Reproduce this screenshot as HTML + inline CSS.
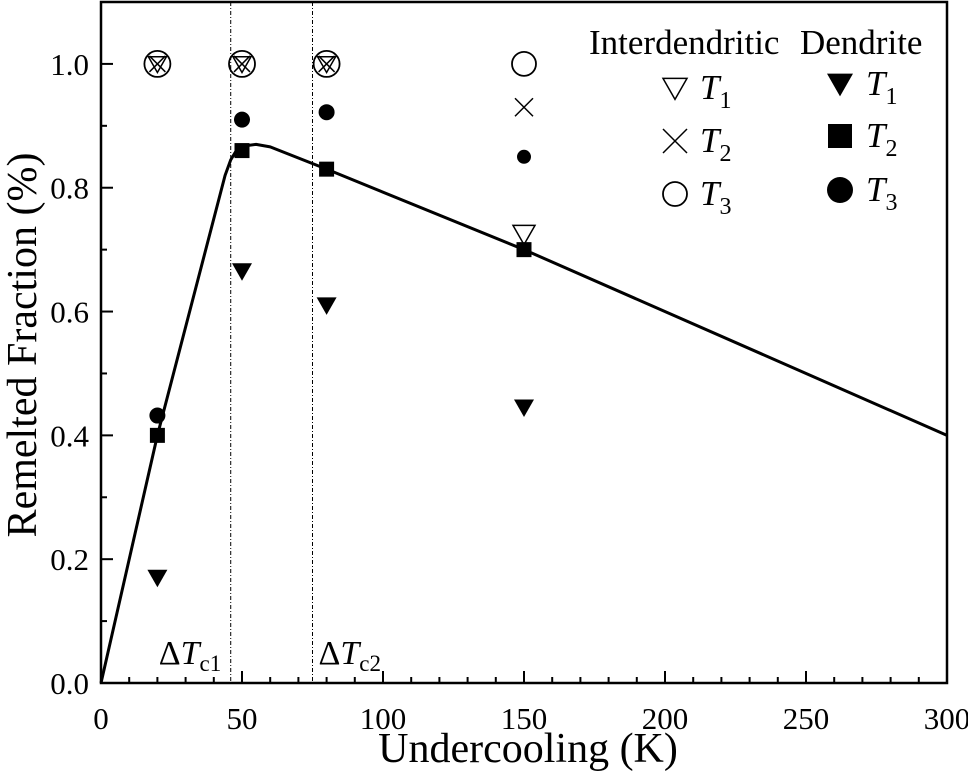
<!DOCTYPE html>
<html><head><meta charset="utf-8"><style>
html,body{margin:0;padding:0;background:#fff;}
svg{display:block;font-family:"Liberation Serif",serif;}
</style></head><body>
<svg id="chart" width="968" height="776" viewBox="0 0 968 776"></svg>
<script>
const xTicks=[0,50,100,150,200,250,300];
const yTicks=[0.0,0.2,0.4,0.6,0.8,1.0];
const undercooling=[20,50,80,150];
const interT1=[1.0,1.0,1.0,0.725];
const interT2=[1.0,1.0,1.0,0.93];
const interT3=[1.0,1.0,1.0,1.0];
const dendT1=[0.17,0.665,0.61,0.445];
const dendT2=[0.4,0.86,0.83,0.7];
const dendT3=[0.432,0.91,0.922,0.85];
const curveX=[0,20,44,46,48,50,55,60,80,150,300];
const curveY=[0,0.4,0.82,0.845,0.86,0.867,0.87,0.866,0.83,0.7,0.4];
const criticalX=[46,75];
const criticalLabels=["c1","c2"];

const X0=101,X1=947,Y0=683,Y1=2,XMAX=300,YMAX=1.1;
const sx=v=>X0+(X1-X0)*v/XMAX;
const sy=v=>Y0-(Y0-Y1)*v/YMAX;
const svg=document.getElementById('chart');
const NS='http://www.w3.org/2000/svg';
function mk(tag,attrs,parent){const e=document.createElementNS(NS,tag);for(const k in attrs)e.setAttribute(k,attrs[k]);(parent||svg).appendChild(e);return e;}

criticalX.forEach((c,i)=>{
  const l=mk('line',{x1:sx(c),x2:sx(c),y1:Y1,y2:Y0,stroke:'#000','stroke-width':1,'stroke-dasharray':'4,2,1,2'});
  
  
  const t=mk('text',{x:sx(c)-(i==0?72:-6),y:664,'font-size':34});
  
  
  t.innerHTML='Δ<tspan font-style="italic">T</tspan><tspan font-size="23" dy="7">'+criticalLabels[i]+'</tspan>';
});

const fr=mk('rect',{x:X0,y:Y1,width:X1-X0,height:Y0-Y1,fill:'none',stroke:'#000','stroke-width':2.5});



for(let v=0;v<=300;v+=10){
  const major=v%50==0;
  const t=mk('line',{x1:sx(v),x2:sx(v),y1:Y0,y2:Y0-(major?12:6),stroke:'#000','stroke-width':2});
  
  
}
xTicks.forEach(v=>{
  const t=mk('text',{x:sx(v),y:729,'font-size':31,'text-anchor':'middle'});
  
  
  t.textContent=v;
});
for(let i=0;i<=11;i++){
  const v=i/10;const major=i%2==0;
  const t=mk('line',{x1:X0,x2:X0+(major?12:6),y1:sy(v),y2:sy(v),stroke:'#000','stroke-width':2});
  
  
}
yTicks.forEach(v=>{
  const t=mk('text',{x:89,y:sy(v)+11,'font-size':31,'text-anchor':'end'});
  
  
  t.textContent=v.toFixed(1);
});
const xt=mk('text',{x:528,y:762,'font-size':42,'text-anchor':'middle'});


xt.textContent='Undercooling (K)';
const yt=mk('text',{x:0,y:0,'font-size':42,'text-anchor':'middle',transform:'translate(36,345) rotate(-90)'});


yt.textContent='Remelted Fraction (%)';

const cp=mk('polyline',{points:curveX.map((x,i)=>sx(x)+','+sy(curveY[i])).join(' '),fill:'none',stroke:'#000','stroke-width':3,'stroke-linejoin':'round'});



function marker(kind,cx,cy,size){
  const g=mk('g',{});
  if(kind=='otri'){mk('polygon',{points:`${cx-size},${cy-size*0.8} ${cx+size},${cy-size*0.8} ${cx},${cy+size*0.95}`,fill:'none',stroke:'#000','stroke-width':1.5},g);}
  if(kind=='ftri'){mk('polygon',{points:`${cx-size},${cy-size*0.8} ${cx+size},${cy-size*0.8} ${cx},${cy+size*0.95}`,fill:'#000'},g);}
  if(kind=='x'){mk('path',{d:`M${cx-size},${cy-size}L${cx+size},${cy+size}M${cx+size},${cy-size}L${cx-size},${cy+size}`,stroke:'#000','stroke-width':1.5},g);}
  if(kind=='ocirc'){mk('circle',{cx:cx,cy:cy,r:size,fill:'none',stroke:'#000','stroke-width':1.8},g);}
  if(kind=='fcirc'){mk('circle',{cx:cx,cy:cy,r:size,fill:'#000'},g);}
  if(kind=='sq'){mk('rect',{x:cx-size,y:cy-size,width:2*size,height:2*size,fill:'#000'},g);}
  return g;
}
undercooling.forEach((u,i)=>{
  let m;
  m=marker('otri',sx(u),sy(interT1[i]),i==3?11:9);
  m=marker('x',sx(u),sy(interT2[i]),i==3?9:8);
  m=marker('ocirc',sx(u),sy(interT3[i]),i==3?12:13);
  m=marker('ftri',sx(u),sy(dendT1[i]),10);
  m=marker('sq',sx(u),sy(dendT2[i]),7.5);
  m=marker('fcirc',sx(u),sy(dendT3[i]),i==3?7:8);
});

const lh1=mk('text',{x:589,y:54,'font-size':35});


lh1.textContent='Interdendritic';
const lh2=mk('text',{x:800,y:54,'font-size':35});


lh2.textContent='Dendrite';
const legendL=[['otri',88,'1'],['x',141,'2'],['ocirc',194,'3']];
const legendR=[['ftri',84,'1'],['sq',136,'2'],['fcirc',190,'3']];
legendL.forEach(e=>{
  const m=marker(e[0],675,e[1],12);
  
  
  const t=mk('text',{x:700,y:e[1]+11,'font-size':35});
  
  
  t.innerHTML='<tspan font-style="italic">T</tspan><tspan font-size="24" dy="9">'+e[2]+'</tspan>';
});
legendR.forEach(e=>{
  const m=marker(e[0],840,e[1],e[0]=='sq'?12:13);
  
  
  const t=mk('text',{x:866,y:e[1]+11,'font-size':35});
  
  
  t.innerHTML='<tspan font-style="italic">T</tspan><tspan font-size="24" dy="9">'+e[2]+'</tspan>';
});
</script>
</body></html>
